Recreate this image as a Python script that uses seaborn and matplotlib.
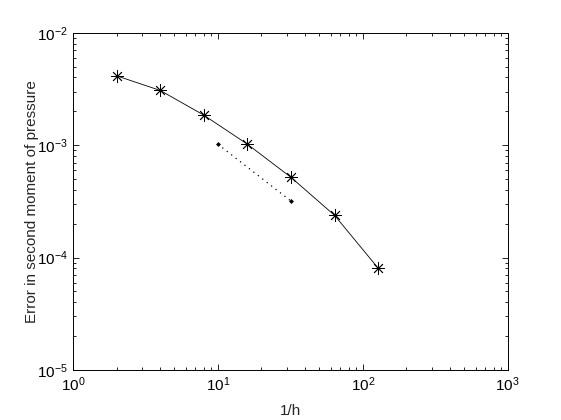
import numpy as np
import pandas as pd
import seaborn as sns
import matplotlib.pyplot as plt
from matplotlib.ticker import LogLocator, NullFormatter

sns.set_style('ticks')
plt.rcParams['font.family'] = ['Liberation Sans', 'DejaVu Sans']
plt.rcParams['mathtext.fontset'] = 'custom'
plt.rcParams['mathtext.rm'] = 'Liberation Sans'
plt.rcParams['mathtext.it'] = 'Liberation Sans'
plt.rcParams['mathtext.default'] = 'regular'

# error curve
inv_h = [2, 4, 8, 16, 32, 64, 128]
err = [4.14e-3, 3.07e-3, 1.85e-3, 1.02e-3, 5.17e-4, 2.37e-4, 8.02e-5]

# slope reference line
ref_x = [10, 32]
ref_y = [1.02e-3, 3.18e-4]

df = pd.DataFrame({'inv_h': inv_h, 'err': err})
ref = pd.DataFrame({'x': ref_x, 'y': ref_y})

fig = plt.figure(figsize=(5.61, 4.2), dpi=100)
fig.patch.set_facecolor('white')
ax = fig.add_axes([0.13, 0.119, 0.775, 0.803])

sns.lineplot(data=df, x='inv_h', y='err', ax=ax, color='black', lw=0.6,
             marker=(8, 2, 0), markersize=9, markeredgewidth=0.6,
             markeredgecolor='black', estimator=None)
sns.lineplot(data=ref, x='x', y='y', ax=ax, color='black', lw=0.9,
             linestyle=(0, (1, 3.5)), marker='D', markersize=2.5,
             markeredgewidth=0, estimator=None)

ax.set_xscale('log')
ax.set_yscale('log')
ax.set_xlim(1, 1000)
ax.set_ylim(1e-5, 1e-2)
ax.set_xticks([1, 10, 100, 1000])
ax.set_yticks([1e-5, 1e-4, 1e-3, 1e-2])
ax.xaxis.set_minor_locator(LogLocator(base=10, subs=np.arange(2, 10), numticks=20))
ax.yaxis.set_minor_locator(LogLocator(base=10, subs=np.arange(2, 10), numticks=20))
ax.xaxis.set_minor_formatter(NullFormatter())
ax.yaxis.set_minor_formatter(NullFormatter())

ax.tick_params(which='both', direction='in', top=True, right=True,
               labelsize=11, width=0.6, colors='black')
ax.tick_params(which='major', length=4.5, pad=4)
ax.tick_params(which='minor', length=2.5)
for s in ax.spines.values():
    s.set_linewidth(0.7)
    s.set_color('black')

ax.set_xlabel('1/h', fontsize=11)
ax.set_ylabel('Error in second moment of pressure', fontsize=11)
ax.xaxis.set_label_coords(0.5, -0.121)
ax.xaxis.label.set_verticalalignment('center')
ax.yaxis.set_label_coords(-0.094, 0.5)
ax.yaxis.label.set_verticalalignment('center')

fig.savefig('out.png', dpi=100, facecolor='white')
